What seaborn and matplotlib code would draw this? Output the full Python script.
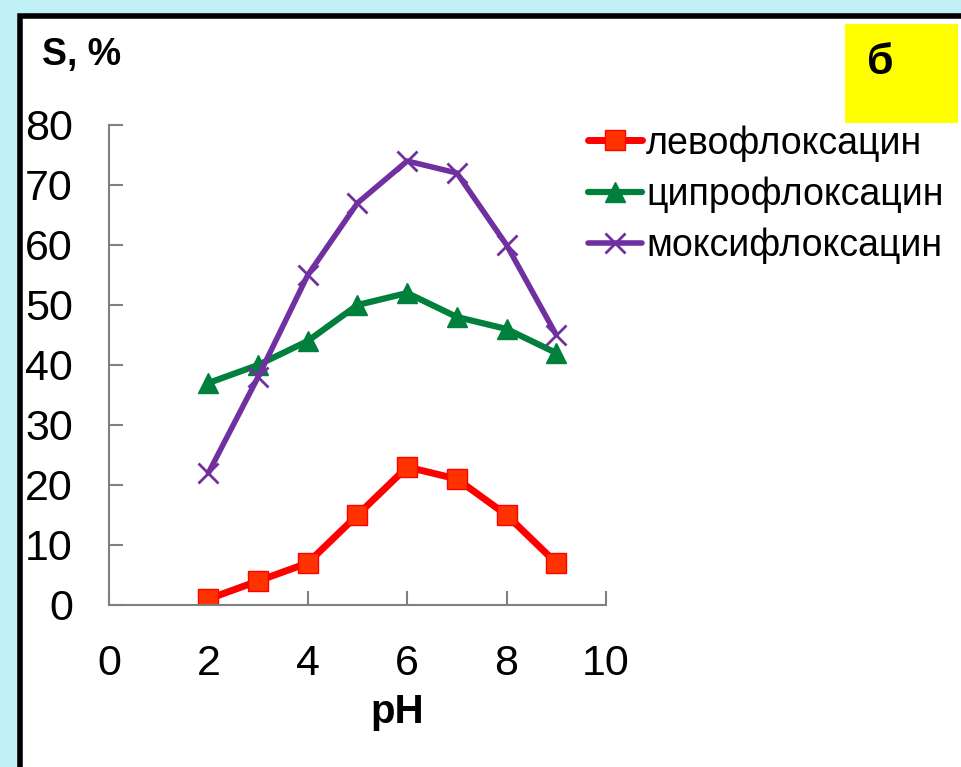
import matplotlib
matplotlib.use("Agg")
import matplotlib.pyplot as plt
import seaborn as sns
import pandas as pd
from matplotlib.patches import Rectangle

ph = [2, 3, 4, 5, 6, 7, 8, 9]
levo = [1, 4, 7, 15, 23, 21, 15, 7]
cipro = [37, 40, 44, 50, 52, 48, 46, 42]
moxi = [22, 38, 55, 67, 74, 72, 60, 45]
names = ["левофлоксацин", "ципрофлоксацин", "моксифлоксацин"]
xticks = [0, 2, 4, 6, 8, 10]
yticks = [0, 10, 20, 30, 40, 50, 60, 70, 80]

series = {names[0]: levo, names[1]: cipro, names[2]: moxi}

sns.set_theme(style="white")
plt.rcParams["font.family"] = ["Liberation Sans", "DejaVu Sans"]
plt.rcParams["text.color"] = "black"

fig = plt.figure(figsize=(9.62, 7.67), dpi=100)
fig.patch.set_facecolor("#c2f1f5")
# white panel with black frame
fig.patches.append(Rectangle((20 / 962, -0.05), 1.1, 1 - 15.5 / 767 + 0.05,
                             transform=fig.transFigure, facecolor="white",
                             edgecolor="black", linewidth=4, zorder=0))
# yellow label box
fig.patches.append(Rectangle((845 / 962, 1 - 123 / 767), 113 / 962, 99 / 767,
                             transform=fig.transFigure, facecolor="#ffff00",
                             edgecolor="none", zorder=1))
fig.text(880 / 962, 1 - 63 / 767, "б", fontsize=31, fontweight="bold",
         ha="center", va="center", color="black")

ax = fig.add_axes([109 / 962, 1 - 605 / 767, 497 / 962, 480 / 767])
ax.set_facecolor("none")
ax.set_zorder(3)

color = {names[0]: "#ff0000", names[1]: "#00803c", names[2]: "#7030a0"}
face = {names[0]: "#ff3300", names[1]: "#00803c", names[2]: "#7030a0"}
markers = {names[0]: "s", names[1]: "^", names[2]: "x"}
lw = {names[0]: 5, names[1]: 4.5, names[2]: 4}
ms = {names[0]: 15, names[1]: 15, names[2]: 15}
mew = {names[0]: 1, names[1]: 1, names[2]: 2}

for n in names:
    df = pd.DataFrame({"pH": ph, "S": series[n]})
    sns.lineplot(data=df, x="pH", y="S", color=color[n], marker=markers[n],
                 markersize=ms[n], markerfacecolor=face[n],
                 markeredgecolor=color[n], markeredgewidth=mew[n],
                 linewidth=lw[n], ax=ax, legend=False)

ax.set_xlim(0, 10)
ax.set_ylim(0, 80)
ax.set_xticks(xticks)
ax.set_yticks(yticks)
ax.set_xlabel("")
ax.set_ylabel("")
for s in ["top", "right"]:
    ax.spines[s].set_visible(False)
for s in ["left", "bottom"]:
    ax.spines[s].set_color("#808080")
    ax.spines[s].set_linewidth(1.5)
ax.tick_params(axis="both", direction="in", length=10, width=1.5,
               color="#808080", labelsize=31, labelcolor="black")
ax.tick_params(axis="y", pad=26)
ax.tick_params(axis="x", pad=28)
ax.tick_params(left=True, bottom=True)

fig.text(82 / 962, 1 - 55 / 767, "S, %", fontsize=27, fontweight="bold",
         ha="center", va="center", color="black")
fig.text(397 / 962, 1 - 712 / 767, "pH", fontsize=29, fontweight="bold",
         ha="center", va="center", color="black")

handles = [plt.Line2D([], [], color=color[n], marker=markers[n],
                      markerfacecolor=face[n], markeredgecolor=color[n],
                      markeredgewidth=mew[n], linewidth=lw[n], markersize=14)
           for n in names]
leg = fig.legend(handles, names, loc="upper left",
                 bbox_to_anchor=(588 / 962, 1 - 125 / 767),
                 frameon=False, fontsize=27, handlelength=1.45,
                 handletextpad=0.1, labelspacing=0.4, borderaxespad=0,
                 borderpad=0)
for t in leg.get_texts():
    t.set_color("black")
leg.set_zorder(5)

fig.savefig("out.png", dpi=100)
